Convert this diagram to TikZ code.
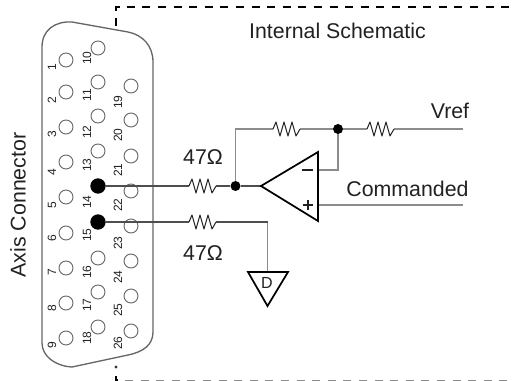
\documentclass[tikz,border=0pt]{standalone}
\usepackage{fontspec}
\setmainfont{Liberation Sans}
\definecolor{wire}{gray}{0.55}
\definecolor{shell}{gray}{0.4}
\definecolor{ink}{gray}{0.13}
\tikzset{
  pinhole/.style={circle,draw=shell,line width=0.7pt,minimum size=10.5pt,inner sep=0pt},
  pinfilled/.style={circle,fill=black,minimum size=11.5pt,inner sep=0pt},
  pinnum/.style={rotate=90,font=\fontsize{9}{9}\selectfont,text=ink,inner sep=0pt},
  lab/.style={font=\fontsize{16}{16}\selectfont,text=ink,inner sep=0pt},
  wireline/.style={draw=wire,line width=1.1pt},
  darkline/.style={draw=ink!80!white,line width=0.8pt},
  dot/.style={circle,fill=black,minimum size=7.5pt,inner sep=0pt},
  tri/.style={draw=black,line width=1.3pt,line join=miter},
  res/.pic={\draw[draw=ink,line width=0.75pt,line join=round] (0,0)--(3,-7)--(7,7)--(11,-7)--(15,7)--(19,-7)--(23,7)--(27,0);}
}
\begin{document}
\begin{tikzpicture}[x=0.75pt,y=-0.75pt]
\useasboundingbox (0,0) rectangle (513,381);
% shell
\draw[draw=shell,line width=1pt] (42,47)
  .. controls (42,30) and (55,21) .. (72,22)
  -- (128,32)
  .. controls (143,35) and (153,46) .. (153,62)
  -- (153,332)
  .. controls (153,345) and (143,352) .. (128,355)
  -- (72,367)
  .. controls (55,366) and (42,356) .. (42,343) -- cycle;
% pins
\foreach \n/\x/\y in {1/66/60,2/66/92,3/66/127,4/66/162,5/66/197,6/66/233,7/66/268,8/66/303,9/66/338,
  10/98/48,11/98/82,12/98/116,13/98/151,16/98/258,17/98/292,18/98/327,
  19/131/86,20/131/120,21/131/156,22/131/191,23/131/226,24/131/261,25/131/296,26/131/331}
  \node[pinhole] (pin\n) at (\x,\y) {};
\node[pinfilled] (pin14) at (98,186) {};
\node[pinfilled] (pin15) at (98,222) {};
\foreach \n/\x/\y in {1/52/67,2/52/100,3/52/134,4/52/172,5/52/205,6/52/238,7/52/272,8/52/308,9/52/345,
  10/87/58,11/87/95,12/87/132,13/87/165,14/87/202,15/87/235,16/87/272,17/87/305,18/87/338,
  19/118/102,20/118/135,21/118/170,22/118/205,23/118/243,24/118/277,25/118/310,26/118/343}
  \node[pinnum] (num\n) at (\x,\y) {\n};
% labels
\node[lab,rotate=90] (axis) at (18,205) {Axis Connector};
\node[lab] (internal) at (337.5,31) {Internal Schematic};
\node[lab] (vref) at (450,111) {Vref};
\node[lab] (cmd) at (407.5,189) {Commanded};
\node[lab] (r1lab) at (203,157) {47Ω};
\node[lab] (r2lab) at (203,253) {47Ω};
% dashed frame
\coordinate (tl) at (116,7);
\coordinate (tr) at (513,7);
\coordinate (bl) at (116,380);
\coordinate (br) at (513,380);
\draw[black,line width=1.2pt] (120,7) -- (tl) -- (116,11);
\draw[black,line width=1.2pt] (116,18) -- (116,26);
\draw[black,line width=1.2pt,dash pattern=on 6pt off 5.7pt] (126.7,7) -- (tr);
\fill[black!80] (116,367) circle (1.2pt);
\draw[black,line width=1.1pt] (116,376) -- (bl) -- (118,380);
\draw[wire,line width=0.7pt,dash pattern=on 6pt off 5.7pt] (125,380) -- (br);
% op amp
\coordinate (tip) at (261,186);
\coordinate (opt) at (318,152);
\coordinate (opb) at (318,221);
\coordinate (minus) at (318,170);
\coordinate (plus) at (318,205);
\node[dot] (j1) at (235.5,186) {};
\node[dot] (j2) at (338,129) {};
\coordinate (c1) at (235.5,129);
\coordinate (c2) at (338,170);
\coordinate (vrefend) at (463,129);
\coordinate (cmdend) at (463,205);
\coordinate (a1) at (189,186);
\coordinate (a2) at (216,186);
\coordinate (b1) at (189,222);
\coordinate (b2) at (216,222);
\coordinate (c3) at (273,129);
\coordinate (c4) at (300,129);
\coordinate (d1) at (367,129);
\coordinate (d2) at (394,129);
\coordinate (e1) at (267.5,222);
\coordinate (gt) at (267.5,272);
% wires
\draw[wireline] (j1) -- (c1) -- (c3);
\draw[wireline] (c4) -- (j2) -- (d1);
\draw[wireline] (d2) -- (vrefend);
\draw[wireline] (j2) -- (c2) -- (minus);
\draw[wireline] (plus) -- (cmdend);
\draw[wireline] (e1) -- (gt);
\draw[darkline] (pin14) -- (a1);
\draw[darkline] (a2) -- (j1) -- (tip);
\draw[darkline] (pin15) -- (b1);
\draw[darkline] (b2) -- (e1);
\pic at (a1) {res};
\pic at (b1) {res};
\pic at (c3) {res};
\pic at (d1) {res};
% triangles
\draw[tri] (tip) -- (opt) -- (opb) -- cycle;
\draw[ink,line width=0.9pt] (302,170) -- (313,170);
\draw[ink,line width=0.9pt] (303,205) -- (313,205) (308,200) -- (308,210);
\draw[tri] (248,272) -- (288,272) -- (267.5,306) -- cycle;
\node[font=\fontsize{12}{12}\selectfont,text=ink,inner sep=0pt] (dlab) at (267,283) {D};
\end{tikzpicture}
\end{document}
